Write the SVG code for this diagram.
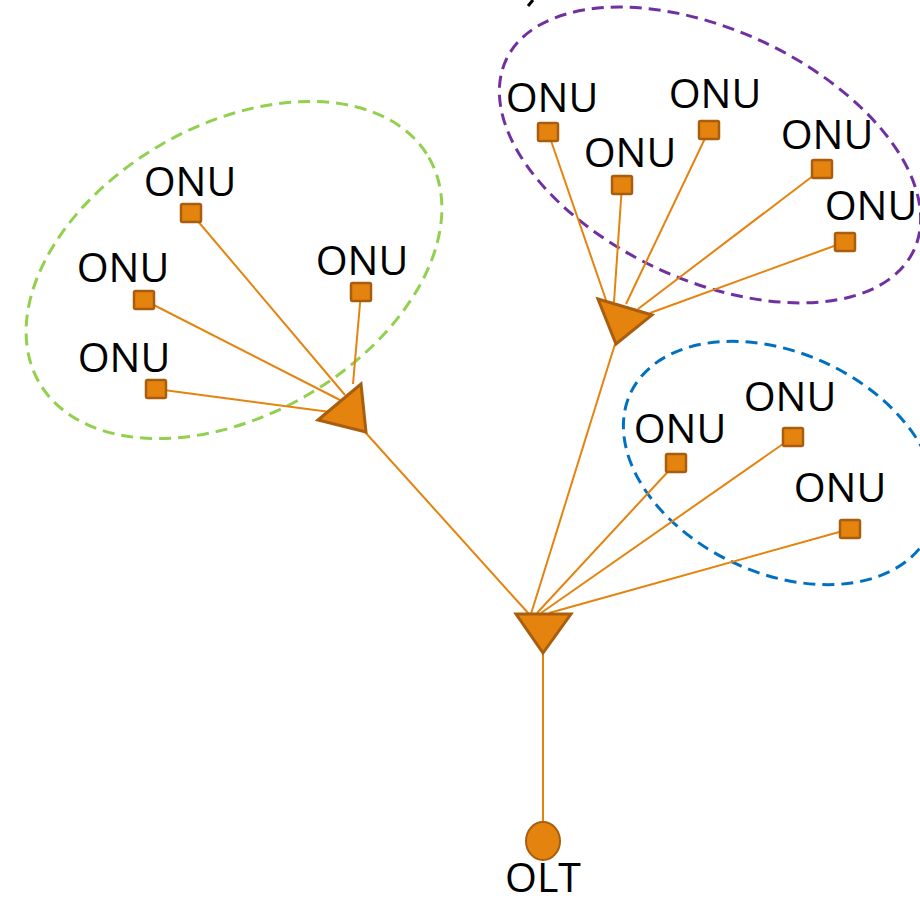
<svg xmlns="http://www.w3.org/2000/svg" width="920" height="899" viewBox="0 0 920 899">
<style>
.ln{stroke:#E5830F;stroke-width:2;fill:none}
.sq{fill:#E5830F;stroke:#A85E0E;stroke-width:2.5}
.tri{fill:#E5830F;stroke:#A85E0E;stroke-width:3;stroke-linejoin:miter}
.lbl{font-family:"Open Sans","Liberation Sans",sans-serif;font-size:41px;fill:#000;text-anchor:middle}
.grp{fill:none;stroke-width:3;stroke-dasharray:12 7}
</style>
<rect width="920" height="899" fill="#fff"/>
<path d="M528,6 L533,0" stroke="#000" stroke-width="3"/>
<g id="groups">
<ellipse class="grp" cx="234" cy="270" rx="225" ry="145" transform="rotate(-30 234 270)" stroke="#92D050"/>
<ellipse class="grp" cx="710" cy="155" rx="225" ry="125" transform="rotate(25 710 155)" stroke="#7030A0"/>
<ellipse class="grp" cx="780" cy="463" rx="165" ry="110" transform="rotate(25 780 463)" stroke="#0070C0"/>
</g>
<g id="connectors">
<path class="ln" d="M543,822 L543,654"/>
<path class="ln" d="M365,432 L529,614"/>
<path class="ln" d="M615,344 L531,614"/>
<path class="ln" d="M537,613 L676,463"/>
<path class="ln" d="M541,613 L793,437"/>
<path class="ln" d="M549,613 L850,529"/>
<path class="ln" d="M191,213 L345,395"/>
<path class="ln" d="M144,300 L340,400"/>
<path class="ln" d="M156,389 L330,412"/>
<path class="ln" d="M361,292 L353,384"/>
<path class="ln" d="M548,132 L606,300"/>
<path class="ln" d="M622,185 L614,302"/>
<path class="ln" d="M709,130 L626,304"/>
<path class="ln" d="M822,169 L638,309"/>
<path class="ln" d="M845,242 L650,313"/>
</g>
<g id="splitter-main"><polygon class="tri" points="516,614 571,614 543,653"/></g>
<g id="splitter-left"><polygon class="tri" points="318,420 361,384 366,432"/></g>
<g id="splitter-top"><polygon class="tri" points="598,299 652,315 616,344"/></g>
<g id="olt"><ellipse cx="543" cy="841" rx="17" ry="19" fill="#E5830F" stroke="#A85E0E" stroke-width="2"/><text class="lbl" x="543" y="892">OLT</text></g>
<g id="onu1"><rect class="sq" x="181" y="204" width="20" height="18" rx="1.5"/><text class="lbl" x="190" y="196">ONU</text></g>
<g id="onu2"><rect class="sq" x="134" y="291" width="20" height="18" rx="1.5"/><text class="lbl" x="123" y="282">ONU</text></g>
<g id="onu3"><rect class="sq" x="146" y="380" width="20" height="18" rx="1.5"/><text class="lbl" x="124" y="372">ONU</text></g>
<g id="onu4"><rect class="sq" x="351" y="283" width="20" height="18" rx="1.5"/><text class="lbl" x="362" y="275">ONU</text></g>
<g id="onu5"><rect class="sq" x="538" y="123" width="20" height="18" rx="1.5"/><text class="lbl" x="552" y="112">ONU</text></g>
<g id="onu6"><rect class="sq" x="612" y="176" width="20" height="18" rx="1.5"/><text class="lbl" x="630" y="167">ONU</text></g>
<g id="onu7"><rect class="sq" x="699" y="121" width="20" height="18" rx="1.5"/><text class="lbl" x="715" y="108">ONU</text></g>
<g id="onu8"><rect class="sq" x="812" y="160" width="20" height="18" rx="1.5"/><text class="lbl" x="827" y="149">ONU</text></g>
<g id="onu9"><rect class="sq" x="835" y="233" width="20" height="18" rx="1.5"/><text class="lbl" x="871" y="220">ONU</text></g>
<g id="onu10"><rect class="sq" x="666" y="454" width="20" height="18" rx="1.5"/><text class="lbl" x="680" y="443">ONU</text></g>
<g id="onu11"><rect class="sq" x="783" y="428" width="20" height="18" rx="1.5"/><text class="lbl" x="790" y="411">ONU</text></g>
<g id="onu12"><rect class="sq" x="840" y="520" width="20" height="18" rx="1.5"/><text class="lbl" x="840" y="502">ONU</text></g>
</svg>
